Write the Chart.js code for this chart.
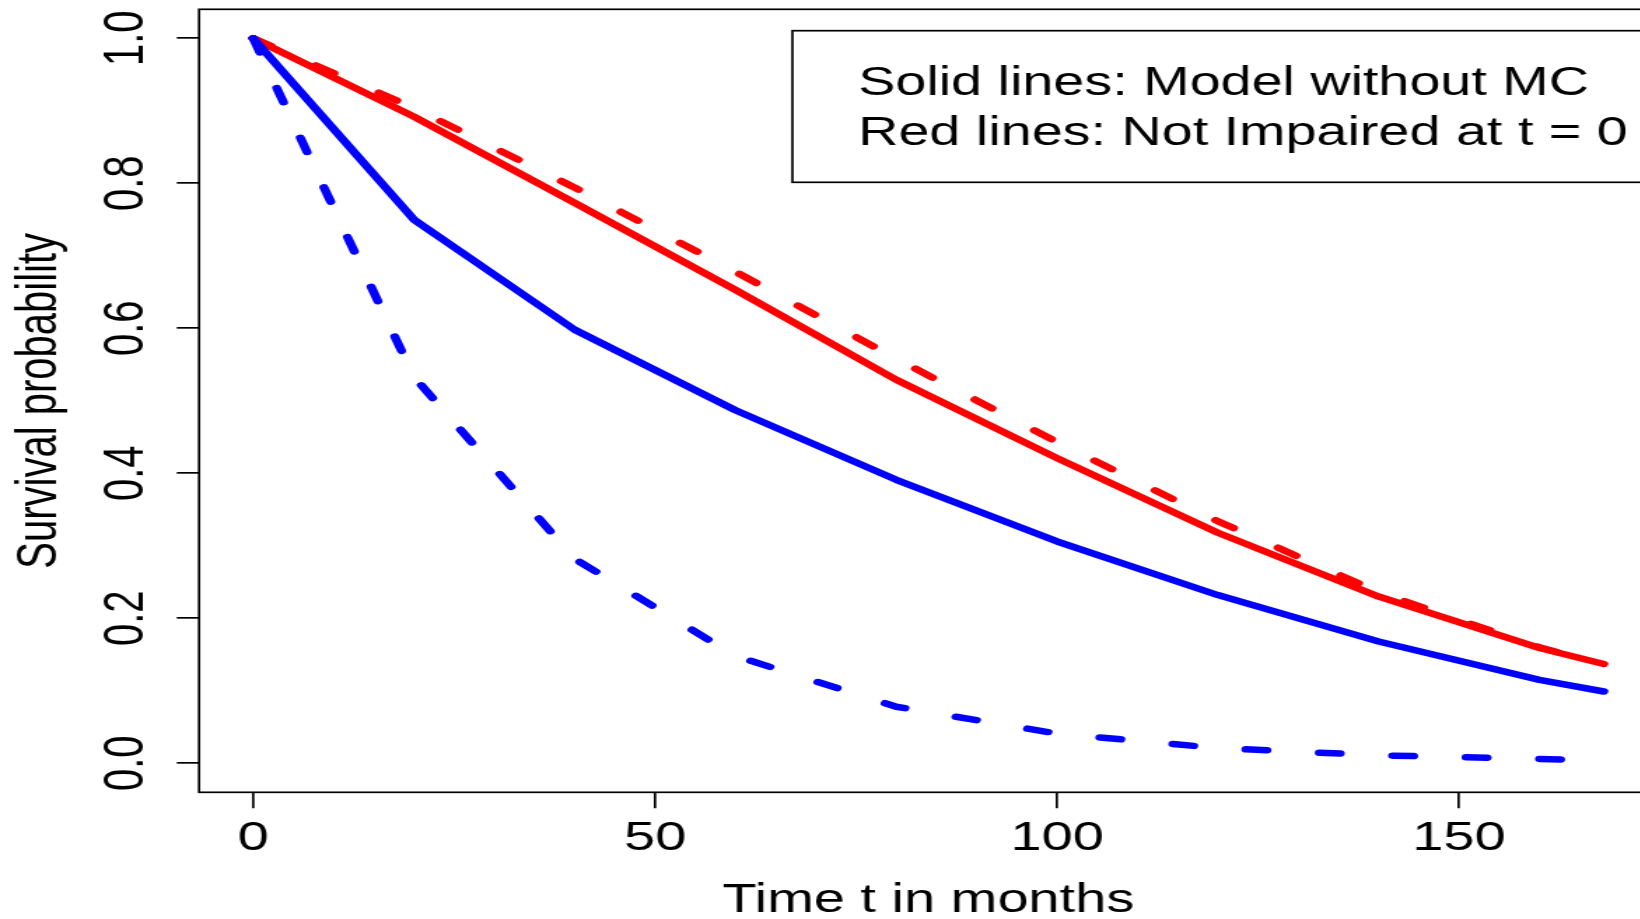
<!DOCTYPE html>
<html>
<head>
<meta charset="utf-8">
<style>
  html, body { margin: 0; padding: 0; overflow: hidden; background: #fff; }
</style>
</head>
<body>
<!-- drawn at 1200 wide and stretched to 1680 like the original raster; the right edge falls off the page -->
<canvas id="chart" width="1200" height="919" style="width:1680px;height:919px"></canvas>
<script src="https://cdn.jsdelivr.net/npm/chart.js@4.4.1/dist/chart.umd.min.js"></script>
<script>
const months = [0, 20, 40, 60, 80, 100, 120, 140, 160, 168];
// red: not impaired at t = 0, blue: impaired; solid = model without MC, dashed = with MC
const notImpairedModel = [1.0, 0.892, 0.773, 0.653, 0.529, 0.421, 0.318, 0.230, 0.159, 0.137];
const notImpairedMC = [1.0, 0.904, 0.794, 0.678, 0.558, 0.443, 0.334, 0.236, 0.160, 0.136];
const impairedModel = [1.0, 0.750, 0.598, 0.487, 0.391, 0.306, 0.232, 0.168, 0.115, 0.099];
const impairedMC = [1.0, 0.533, 0.282, 0.148, 0.078, 0.041, 0.021, 0.011, 0.006, 0.004];

const xTicks = [0, 50, 100, 150];
const yTicks = [0, 0.2, 0.4, 0.6, 0.8, 1.0];
const legendLines = ["Solid lines: Model without MC", "Red lines: Not Impaired at t = 0"];

Chart.defaults.font.family = '"Liberation Sans", Arial, Helvetica, sans-serif';
Chart.defaults.color = "#000";

function series(values, colour, dashed) {
    return {
        data: months.map((m, i) => ({ x: m, y: values[i] })),
        borderColor: colour,
        borderWidth: 6.5,
        borderDash: dashed ? [15, 37.5] : [],
        borderCapStyle: "round",
        borderJoinStyle: "round",
        pointRadius: 0,
        tension: 0,
        fill: false
    };
}

const frameAndNote = {
    id: "frameAndNote",
    beforeDatasetsDraw(chart) {
        const ctx = chart.ctx, a = chart.chartArea;
        ctx.save();
        ctx.strokeStyle = "#000";
        ctx.lineWidth = 1.7;
        ctx.strokeRect(a.left, a.top, a.right - a.left, a.bottom - a.top);
        ctx.restore();
    },
    afterDraw(chart) {
        const ctx = chart.ctx, a = chart.chartArea;
        const top = a.top + 21.4;
        const left = 566;
        ctx.save();
        ctx.strokeStyle = "#000";
        ctx.lineWidth = 1.7;
        ctx.strokeRect(left, top, a.right - 8 - left, 182.3 - top);
        ctx.fillStyle = "#000";
        ctx.font = '39.8px "Liberation Sans", Arial, Helvetica, sans-serif';
        ctx.textBaseline = "alphabetic";
        ctx.textAlign = "left";
        legendLines.forEach((line, i) => ctx.fillText(line, 613, 95 + i * 50));
        ctx.restore();
    }
};

new Chart(document.getElementById("chart"), {
    type: "line",
    data: {
        datasets: [
            series(impairedMC, "#0000ff", true),
            series(impairedModel, "#0000ff", false),
            series(notImpairedMC, "#ff0000", true),
            series(notImpairedModel, "#ff0000", false)
        ]
    },
    options: {
        responsive: false,
        animation: false,
        events: [],
        layout: { autoPadding: false, padding: { top: 9.3, right: 15.9, left: 0, bottom: 0 } },
        plugins: { legend: { display: false }, tooltip: { enabled: false } },
        scales: {
            x: {
                type: "linear",
                min: -6.72,
                max: 174.72,
                afterBuildTicks: s => { s.ticks = xTicks.map(v => ({ value: v })); },
                afterFit: s => { s.height = 126.7; s.paddingLeft = 0; s.paddingRight = 0; },
                grid: { drawOnChartArea: false, drawTicks: true, tickLength: 16, color: "#000", lineWidth: 1.7 },
                border: { display: false },
                ticks: { color: "#000", font: { size: 40 }, padding: 6.5, maxRotation: 0, minRotation: 0, autoSkip: false, callback: v => String(v) },
                title: { display: true, text: "Time t in months", color: "#000", font: { size: 40, lineHeight: 0.9 }, padding: { top: 0, bottom: 0 } }
            },
            y: {
                type: "linear",
                min: -0.04,
                max: 1.04,
                afterBuildTicks: s => { s.ticks = yTicks.map(v => ({ value: v })); },
                afterFit: s => { s.width = 142.2; s.paddingTop = 0; s.paddingBottom = 0; },
                grid: { drawOnChartArea: false, drawTicks: true, tickLength: 15.9, color: "#000", lineWidth: 1.7 },
                border: { display: false },
                ticks: { color: "#000", font: { size: 40 }, padding: 8, minRotation: 90, maxRotation: 90, crossAlign: "center", autoSkip: false, callback: v => v.toFixed(1) },
                title: { display: true, text: "Survival probability", color: "#000", font: { size: 40 }, padding: { top: 5, bottom: 0 } }
            }
        }
    },
    plugins: [frameAndNote]
});
</script>
</body>
</html>
